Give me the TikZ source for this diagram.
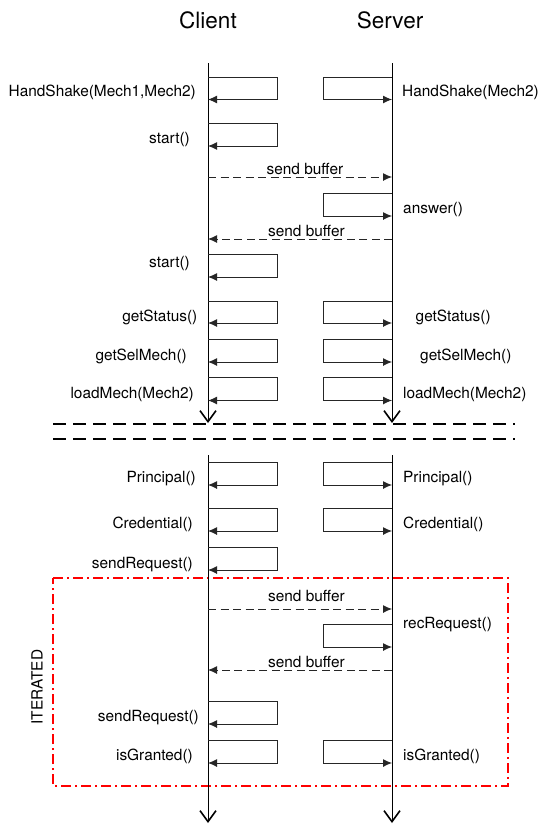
\documentclass[tikz,border=0pt]{standalone}
\usepackage{fontspec}
\setmainfont{TeX Gyre Heros}
\usetikzlibrary{arrows.meta}
\newcommand{\ccall}[3]{%
  \coordinate (#1a) at (208,#2); \coordinate (#1b) at (208,#3);
  \draw[callbox] (#1a) -- ++(69,0) |- (#1b);}
\newcommand{\scall}[3]{%
  \coordinate (#1a) at (392,#2); \coordinate (#1b) at (392,#3);
  \draw[callbox] (#1a) -- ++(-69,0) |- (#1b);}
\begin{document}
\begin{tikzpicture}[x=1pt,y=-1pt,
  lbl/.style={font=\fontsize{15.4}{18}\selectfont, inner sep=0pt},
  ttl/.style={font=\fontsize{22.5}{27}\selectfont, inner sep=0pt},
  life/.style={line width=1pt, -{Straight Barb[length=11pt,width=16pt,line width=1.6pt]}},
  callbox/.style={line width=0.9pt, draw=black!85, -{Latex[length=9pt,width=8pt]}},
  msg/.style={line width=0.9pt, draw=black!85, dash pattern=on 8pt off 4.5pt, -{Latex[length=9pt,width=8pt]}},
  sepline/.style={line width=2pt, dash pattern=on 13pt off 7pt},
  iterbox/.style={draw=red, line width=2pt, dash pattern=on 10pt off 4pt on 2pt off 4pt}]
\useasboundingbox (0,0) rectangle (539,825);
\fill[white] (0,0) rectangle (539,825);

% titles
\node[ttl, anchor=base] (client) at (208,28) {Client};
\node[ttl, anchor=base] (server) at (390,28) {Server};

% iterated frame
\coordinate (loopa) at (53,578); \coordinate (loopb) at (508,786);
\draw[iterbox] (loopa) -- (loopb |- loopa) -- (loopb) -- (loopa |- loopb) -- cycle;
\node[lbl, rotate=90] (iter) at (37,687) {ITERATED};

% lifelines
\coordinate (ct1) at (208,63);  \coordinate (cb1) at (208,423);
\coordinate (st1) at (392,63);  \coordinate (sb1) at (392,423);
\coordinate (ct2) at (208,455); \coordinate (cb2) at (208,823);
\coordinate (st2) at (392,455); \coordinate (sb2) at (392,823);
\draw[life] (ct1) -- (cb1);
\draw[life] (st1) -- (sb1);
\draw[life] (ct2) -- (cb2);
\draw[life] (st2) -- (sb2);

% separator
\coordinate (sa1) at (53,424); \coordinate (sa2) at (515,424);
\coordinate (sc1) at (53,439); \coordinate (sc2) at (515,439);
\draw[sepline] (sa1) -- (sa2);
\draw[sepline] (sc1) -- (sc2);

% self calls
\ccall{hc}{77}{99.5}
\scall{hs}{77}{99.5}
\ccall{st}{123}{146}
\scall{an}{193}{216}
\ccall{sb}{254}{277}
\ccall{gc}{301}{323}
\scall{gs}{301}{323}
\ccall{mc}{339}{362}
\scall{ms}{339}{362}
\ccall{lc}{377}{400.5}
\scall{ls}{377}{400.5}
\ccall{pc}{462}{485}
\scall{ps}{462}{485}
\ccall{cc}{508}{531}
\scall{cs}{508}{531}
\ccall{rc}{547}{570}
\scall{rs}{624}{647}
\ccall{qc}{701}{724}
\ccall{ic}{740}{763}
\scall{is}{740}{763}

% messages
\coordinate (m1a) at (208,177); \coordinate (m1b) at (392,177);
\coordinate (m2a) at (392,239); \coordinate (m2b) at (208,239);
\coordinate (m3a) at (208,609); \coordinate (m3b) at (392,609);
\coordinate (m4a) at (392,670); \coordinate (m4b) at (208,670);
\draw[msg] (m1a) -- (m1b);
\draw[msg] (m2a) -- (m2b);
\draw[msg] (m3a) -- (m3b);
\draw[msg] (m4a) -- (m4b);
\node[lbl, anchor=base] (t1) at (305,174.5) {send buffer};
\node[lbl, anchor=base] (t2) at (306.5,236) {send buffer};
\node[lbl, anchor=base] (t3) at (306.5,601) {send buffer};
\node[lbl, anchor=base] (t4) at (306.5,667) {send buffer};

% client labels
\node[lbl, anchor=base east] (l1) at (196,96.5) {HandShake(Mech1,Mech2)};
\node[lbl, anchor=base east] (l2) at (190,143.5) {start()};
\node[lbl, anchor=base east] (l3) at (190,267) {start()};
\node[lbl, anchor=base east] (l4) at (197.5,321.5) {getStatus()};
\node[lbl, anchor=base east] (l5) at (187,360.5) {getSelMech()};
\node[lbl, anchor=base east] (l6) at (194,398.5) {loadMech(Mech2)};
\node[lbl, anchor=base east] (l7) at (196,482) {Principal()};
\node[lbl, anchor=base east] (l8) at (193,528.8) {Credential()};
\node[lbl, anchor=base east] (l9) at (193,568) {sendRequest()};
\node[lbl, anchor=base east] (l10) at (199,721) {sendRequest()};
\node[lbl, anchor=base east] (l11) at (193,760) {isGranted()};

% server labels
\node[lbl, anchor=base west] (r1) at (402,96.5) {HandShake(Mech2)};
\node[lbl, anchor=base west] (r2) at (403,213.5) {answer()};
\node[lbl, anchor=base west] (r3) at (415.5,321.5) {getStatus()};
\node[lbl, anchor=base west] (r4) at (420,360.5) {getSelMech()};
\node[lbl, anchor=base west] (r5) at (403,398.5) {loadMech(Mech2)};
\node[lbl, anchor=base west] (r6) at (403,482) {Principal()};
\node[lbl, anchor=base west] (r7) at (403,528.8) {Credential()};
\node[lbl, anchor=base west] (r8) at (403,628.8) {recRequest()};
\node[lbl, anchor=base west] (r9) at (403,760) {isGranted()};
\end{tikzpicture}
\end{document}
